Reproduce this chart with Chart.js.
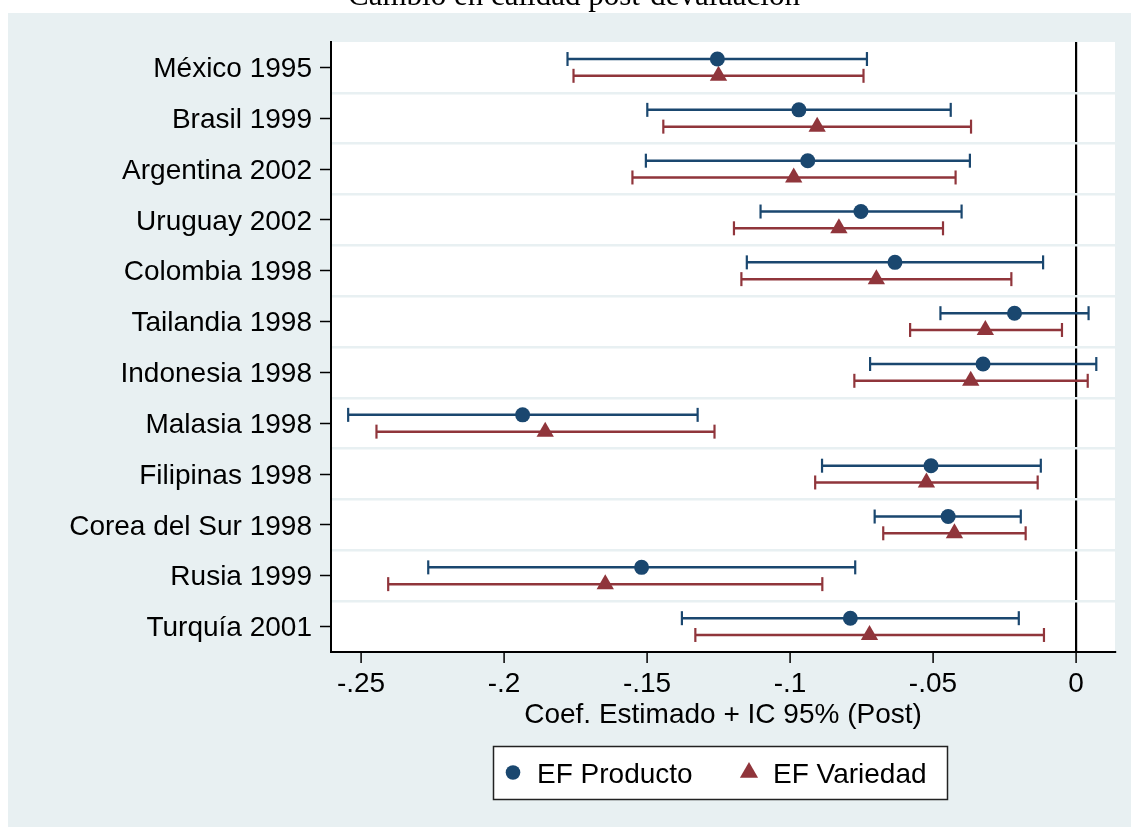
<!DOCTYPE html>
<html>
<head>
<meta charset="utf-8">
<script src="https://cdn.jsdelivr.net/npm/chart.js@4.4.1/dist/chart.umd.min.js"></script>
<style>
  html, body { margin: 0; padding: 0; background: #ffffff; overflow: hidden; }
  #wrap { position: relative; width: 1131px; height: 827px; }
</style>
</head>
<body>
<div id="wrap"><canvas id="c"></canvas></div>
<script>
// ---- Data ----
const chartTitle = "Cambio en calidad post-devaluación";
const xAxisTitle = "Coef. Estimado + IC 95% (Post)";
const categories = ["México 1995","Brasil 1999","Argentina 2002","Uruguay 2002","Colombia 1998","Tailandia 1998","Indonesia 1998","Malasia 1998","Filipinas 1998","Corea del Sur 1998","Rusia 1999","Turquía 2001"];
const seriesNames = ["EF Producto", "EF Variedad"];
const prodCoef = [-0.1254,-0.0969,-0.0938,-0.0752,-0.0633,-0.0215,-0.0325,-0.1935,-0.0507,-0.0447,-0.1519,-0.0789];
const prodLo   = [-0.1778,-0.1499,-0.1504,-0.1103,-0.1151,-0.0474,-0.0720,-0.2545,-0.0888,-0.0704,-0.2265,-0.1378];
const prodHi   = [-0.0731,-0.0438,-0.0371,-0.0400,-0.0115, 0.0044, 0.0071,-0.1323,-0.0123,-0.0193,-0.0772,-0.0200];
const varCoef  = [-0.1250,-0.0905,-0.0987,-0.0829,-0.0698,-0.0317,-0.0368,-0.1856,-0.0523,-0.0425,-0.1646,-0.0722];
const varLo    = [-0.1757,-0.1443,-0.1551,-0.1196,-0.1170,-0.0580,-0.0775,-0.2446,-0.0912,-0.0674,-0.2405,-0.1331];
const varHi    = [-0.0743,-0.0367,-0.0421,-0.0465,-0.0226,-0.0049, 0.0041,-0.1264,-0.0134,-0.0176,-0.0887,-0.0112];
const xTickValues = [-0.25, -0.2, -0.15, -0.1, -0.05, 0];
const xTickLabels = ["-.25", "-.2", "-.15", "-.1", "-.05", "0"];
const referenceX = 0;

// ---- Styles ----
const BLUE = '#1a476f';
const RED = '#90353b';
const BG = '#e8f0f2';
const FONT = "'Liberation Sans', Arial, sans-serif";
const ROW_OFF = 0.165;

function ciData(lo, hi, off) {
  const out = [];
  categories.forEach((c, i) => {
    out.push({x: lo[i], y: i + 1 + off});
    out.push({x: hi[i], y: i + 1 + off});
    out.push({x: null, y: null});
  });
  return out;
}
function ptData(v, off) {
  return categories.map((c, i) => ({x: v[i], y: i + 1 + off}));
}

const bgPlugin = {
  id: 'bgPlugin',
  beforeDraw(chart) {
    const ctx = chart.ctx, a = chart.chartArea;
    ctx.save();
    ctx.fillStyle = '#ffffff';
    ctx.fillRect(0, 0, chart.width, chart.height);
    ctx.fillStyle = BG;
    ctx.fillRect(8, 13, chart.width - 8, chart.height - 13);
    ctx.fillStyle = '#ffffff';
    ctx.fillRect(a.left, a.top, a.right - a.left, a.bottom - a.top);
    ctx.restore();
  },
  afterDraw(chart) {
    const ctx = chart.ctx;
    ctx.save();
    // title (partially clipped at top, as in the reference)
    ctx.fillStyle = '#000';
    ctx.font = "31px 'Liberation Serif', 'DejaVu Serif', serif";
    ctx.textAlign = 'center';
    ctx.textBaseline = 'alphabetic';
    ctx.fillText(chartTitle, 574, 5);
    // legend
    const lx = 493, ly = 746, lw = 454, lh = 53;
    ctx.fillStyle = '#fff';
    ctx.fillRect(lx, ly, lw, lh);
    ctx.strokeStyle = '#222';
    ctx.lineWidth = 1.5;
    ctx.strokeRect(lx + 0.5, ly + 0.5, lw, lh);
    const cy = ly + lh / 2;
    ctx.fillStyle = BLUE;
    ctx.beginPath(); ctx.arc(513, cy, 7.3, 0, Math.PI * 2); ctx.fill();
    ctx.fillStyle = RED;
    const r = 10.5;
    ctx.beginPath();
    ctx.moveTo(749, cy - r);
    ctx.lineTo(749 + r * Math.sin(2 * Math.PI / 3), cy - r * Math.cos(2 * Math.PI / 3));
    ctx.lineTo(749 + r * Math.sin(4 * Math.PI / 3), cy - r * Math.cos(4 * Math.PI / 3));
    ctx.closePath(); ctx.fill();
    ctx.fillStyle = '#000';
    ctx.font = "28px " + FONT;
    ctx.textAlign = 'left';
    ctx.textBaseline = 'alphabetic';
    ctx.fillText(seriesNames[0], 537, 783);
    ctx.fillText(seriesNames[1], 773, 783);
    ctx.restore();
  }
};

const ciCommon = {
  type: 'line',
  showLine: true,
  spanGaps: false,
  borderWidth: 2.5,
  pointStyle: 'line',
  pointRotation: 90,
  pointRadius: 7,
  pointHoverRadius: 7,
  pointBorderWidth: 2.2,
  fill: false,
  tension: 0
};

new Chart(document.getElementById('c'), {
  type: 'scatter',
  plugins: [bgPlugin],
  data: {
    datasets: [
      { label: seriesNames[0], data: ptData(prodCoef, -ROW_OFF), pointStyle: 'circle', pointRadius: 7.5, pointHoverRadius: 7.5,
        backgroundColor: BLUE, borderColor: BLUE, pointBorderWidth: 0, showLine: false },
      { label: seriesNames[1], data: ptData(varCoef, ROW_OFF), pointStyle: 'triangle', pointRadius: 10, pointHoverRadius: 10,
        backgroundColor: RED, borderColor: RED, pointBorderWidth: 0, showLine: false },
      Object.assign({ label: 'IC ' + seriesNames[0], data: ciData(prodLo, prodHi, -ROW_OFF), borderColor: BLUE, pointBorderColor: BLUE, backgroundColor: BLUE }, ciCommon),
      Object.assign({ label: 'IC ' + seriesNames[1], data: ciData(varLo, varHi, ROW_OFF), borderColor: RED, pointBorderColor: RED, backgroundColor: RED }, ciCommon)
    ]
  },
  options: {
    responsive: true,
    maintainAspectRatio: false,
    animation: false,
    events: [],
    layout: { padding: { top: 42, left: 0, right: 16, bottom: 95 } },
    plugins: { legend: { display: false }, title: { display: false }, tooltip: { enabled: false } },
    scales: {
      x: {
        type: 'linear',
        position: 'bottom',
        min: -0.2605,
        max: 0.01364,
        afterBuildTicks: (s) => { s.ticks = xTickValues.map(v => ({ value: v })); },
        afterFit: (s) => { s.height = 80; },
        ticks: {
          callback: (v, i) => xTickLabels[i],
          font: { family: FONT, size: 28 },
          color: '#000',
          padding: 4,
          maxRotation: 0,
          autoSkip: false
        },
        grid: {
          drawOnChartArea: true,
          color: (c) => (c.tick && c.tick.value === referenceX) ? '#000' : 'rgba(0,0,0,0)',
          lineWidth: 2.2,
          drawTicks: true,
          tickLength: 11,
          tickColor: '#000',
          tickWidth: 1.5
        },
        border: { display: true, color: '#000', width: 2 },
        title: { display: true, text: xAxisTitle, font: { family: FONT, size: 28 }, color: '#000', padding: { top: 0, bottom: 0 } }
      },
      y: {
        type: 'linear',
        position: 'left',
        reverse: true,
        min: 0.5,
        max: categories.length + 0.5,
        afterBuildTicks: (s) => { s.ticks = categories.map((c, i) => ({ value: i + 1 })); },
        afterFit: (s) => { s.width = 331; },
        ticks: {
          callback: (v) => categories[Math.round(v) - 1],
          font: { family: FONT, size: 28 },
          color: '#000',
          padding: 8,
          labelOffset: 2,
          autoSkip: false
        },
        grid: {
          drawOnChartArea: false,
          drawTicks: true,
          tickLength: 11,
          tickColor: '#000',
          tickWidth: 1.5
        },
        border: { display: true, color: '#000', width: 2 }
      },
      yg: {
        type: 'linear',
        position: 'right',
        reverse: true,
        min: 0.5,
        max: categories.length + 0.5,
        afterBuildTicks: (s) => { s.ticks = categories.slice(1).map((c, i) => ({ value: i + 1.5 })); },
        afterFit: (s) => { s.width = 0; },
        ticks: { display: false },
        grid: { drawOnChartArea: true, drawTicks: false, color: BG, lineWidth: 2.5 },
        border: { display: false }
      }
    }
  }
});
</script>
</body>
</html>
